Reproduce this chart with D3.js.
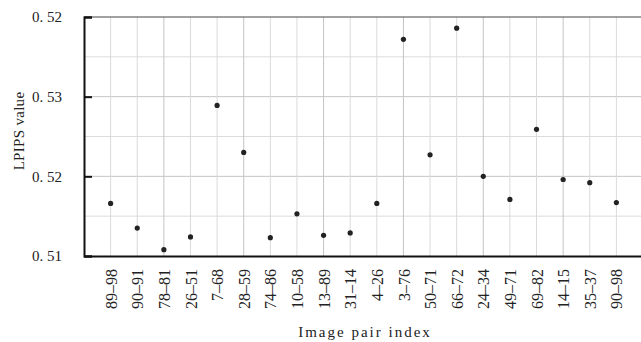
<!DOCTYPE html>
<html>
<head>
<meta charset="utf-8">
<script src="https://cdn.jsdelivr.net/npm/d3@7"></script>
<style>
    body { margin: 0; background: #fff; }
    svg { display: block; font-family: "Liberation Serif", "DejaVu Serif", serif; }
</style>
</head>
<body>
<div id="chart"></div>
<script>
const pairLabels = [
    '89–98', '90–91', '78–81', '26–51', '7–68', '28–59', '74–86', '10–58', '13–89', '31–14',
    '4–26', '3–76', '50–71', '66–72', '24–34', '49–71', '69–82', '14–15', '35–37', '90–98'
];
const lpipsValues = [
    0.5166, 0.5135, 0.5108, 0.5124, 0.5289, 0.5230, 0.5123, 0.5153, 0.5126, 0.5129,
    0.5166, 0.5372, 0.5227, 0.5386, 0.5200, 0.5171, 0.5259, 0.5196, 0.5192, 0.5167
];
const yTickValues = [0.51, 0.52, 0.53, 0.54];
const yTickLabels = ['0. 51', '0. 52', '0. 53', '0. 52'];
const yGridValues = [0.515, 0.52, 0.525, 0.53, 0.535];

const WIDTH = 641, HEIGHT = 342;
const MARGIN = { top: 17, right: -2, bottom: 86, left: 84 };

const svg = d3.select('#chart').append('svg')
    .attr('width', WIDTH)
    .attr('height', HEIGHT);

const x = d3.scalePoint()
    .domain(pairLabels)
    .range([MARGIN.left, WIDTH - MARGIN.right])
    .padding(1);

const y = d3.scaleLinear()
    .domain([0.51, 0.54])
    .range([HEIGHT - MARGIN.bottom, MARGIN.top]);

// grid
svg.append('g')
    .selectAll('line')
    .data(yGridValues)
    .join('line')
    .attr('x1', MARGIN.left)
    .attr('x2', WIDTH)
    .attr('y1', d => y(d))
    .attr('y2', d => y(d))
    .attr('stroke', (d, i) => i % 2 === 1 ? '#c4c4c4' : '#dcdcdc')
    .attr('stroke-width', 1);

svg.append('g')
    .selectAll('line')
    .data(pairLabels)
    .join('line')
    .attr('x1', d => x(d))
    .attr('x2', d => x(d))
    .attr('y1', MARGIN.top)
    .attr('y2', HEIGHT - MARGIN.bottom)
    .attr('stroke', (d, i) => i % 3 === 2 ? '#c4c4c4' : '#dadada')
    .attr('stroke-width', 1);

// top frame line
svg.append('line')
    .attr('x1', MARGIN.left).attr('x2', WIDTH)
    .attr('y1', MARGIN.top).attr('y2', MARGIN.top)
    .attr('stroke', '#444').attr('stroke-width', 1.2);

// y axis
const yAxis = svg.append('g')
    .attr('transform', `translate(${MARGIN.left},0)`)
    .call(d3.axisLeft(y)
        .tickValues(yTickValues)
        .tickSize(-8)
        .tickPadding(22)
        .tickFormat((d, i) => yTickLabels[i]));
yAxis.select('.domain').attr('stroke', '#111').attr('stroke-width', 2);
yAxis.selectAll('.tick line').attr('stroke', '#111').attr('stroke-width', 2);
yAxis.selectAll('.tick text')
    .attr('font-family', '"Liberation Serif", serif')
    .attr('font-size', 15)
    .attr('fill', '#222');

// x axis
const xAxis = svg.append('g')
    .attr('transform', `translate(0,${HEIGHT - MARGIN.bottom})`)
    .call(d3.axisBottom(x).tickSize(0).tickPadding(0));
xAxis.select('.domain').attr('stroke', '#111').attr('stroke-width', 2);
xAxis.selectAll('.tick text')
    .attr('font-family', '"Liberation Serif", serif')
    .attr('font-size', 16)
    .attr('fill', '#222')
    .attr('text-anchor', 'end')
    .attr('dy', '0.35em')
    .attr('transform', 'translate(0,13) rotate(-90)');

// points
svg.append('g')
    .selectAll('circle')
    .data(lpipsValues)
    .join('circle')
    .attr('cx', (d, i) => x(pairLabels[i]))
    .attr('cy', d => y(d))
    .attr('r', 2.6)
    .attr('fill', '#222');

// axis titles
svg.append('text')
    .attr('x', 365)
    .attr('y', 337)
    .attr('text-anchor', 'middle')
    .attr('font-size', 15)
    .attr('letter-spacing', 2)
    .attr('fill', '#222')
    .text('Image pair index');

svg.append('text')
    .attr('transform', 'translate(24,131) rotate(-90)')
    .attr('text-anchor', 'middle')
    .attr('font-size', 15)
    .attr('letter-spacing', 0.3)
    .attr('fill', '#222')
    .text('LPIPS value');
</script>
</body>
</html>
